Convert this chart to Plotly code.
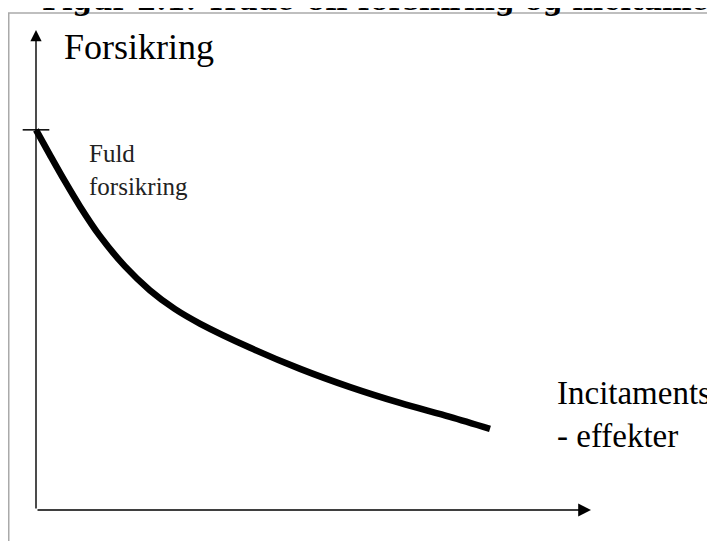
import plotly.graph_objects as go

# Curve: insurance level vs incentive effects (abstract units)
incentive = [0.0, 0.25, 0.52, 0.79, 1.15, 1.60, 2.05, 2.50, 2.96, 3.86, 4.76, 5.66, 6.56, 7.46, 8.18]
insurance = [7.92, 7.40, 6.85, 6.33, 5.71, 5.08, 4.58, 4.19, 3.88, 3.38, 2.94, 2.56, 2.23, 1.94, 1.69]

x_axis_end = 10.0
y_axis_end = 10.0
full_insurance = insurance[0]
tick_half = 0.24

title_text = "Figur 2.1: Trade-off forsikring og incitamentseffekter"
y_label = "Forsikring"
x_label = "Incitaments<br>- effekter"
full_label = "Fuld<br>forsikring"

# figure is placed at (8,8) in the page by the default body margin
W, H = 707, 533
unit_x, unit_y = 55.5, 48.0
origin_x, origin_y = 28, 502          # figure pixels of the axes origin
x_min = -origin_x / unit_x
L = 0
T = origin_y - y_axis_end * unit_y
pw = origin_x + x_axis_end * unit_x
R = W - pw
B = H - origin_y

def fx(p):
    return (p - L) / pw

def fy(p):
    return (H - B - p) / (H - B - T)

fig = go.Figure()
fig.add_trace(go.Scatter(x=incentive, y=insurance, mode="lines",
                         line=dict(color="black", width=6.5, shape="spline", smoothing=0.9),
                         hoverinfo="skip", showlegend=False))
# full insurance tick
fig.add_trace(go.Scatter(x=[-tick_half, tick_half], y=[full_insurance, full_insurance], mode="lines",
                         line=dict(color="black", width=1.5), hoverinfo="skip", showlegend=False))

serif = "Liberation Serif, Times New Roman, serif"
ann = []
ann.append(dict(x=x_axis_end, y=0, ax=0, ay=0, xref="x", yref="y", axref="x", ayref="y",
                showarrow=True, arrowhead=2, arrowsize=1.6, arrowwidth=1.6, arrowcolor="black", text=""))
ann.append(dict(x=0, y=y_axis_end, ax=0, ay=0, xref="x", yref="y", axref="x", ayref="y",
                showarrow=True, arrowhead=2, arrowsize=1.6, arrowwidth=1.4, arrowcolor="black", text=""))
ann.append(dict(x=0.47, y=9.65, xref="x", yref="y", text=y_label, showarrow=False,
                xanchor="left", yanchor="middle", font=dict(family=serif, size=36, color="black")))
ann.append(dict(x=0.92, y=7.75, xref="x", yref="y", text=full_label, showarrow=False,
                xanchor="left", yanchor="top", align="left",
                font=dict(family=serif, size=25, color="#222")))
ann.append(dict(x=9.36, y=2.85, xref="x", yref="y", text=x_label, showarrow=False,
                xanchor="left", yanchor="top", align="left",
                font=dict(family=serif, size=33, color="black")))
ann.append(dict(x=fx(32), y=fy(11), xref="paper", yref="paper", text="<b>" + title_text + "</b>",
                showarrow=False, xanchor="left", yanchor="bottom",
                font=dict(family="DejaVu Serif, serif", size=28, color="black")))

shapes = [
    dict(type="line", xref="paper", yref="paper", x0=fx(0.75), x1=fx(0.75), y0=fy(5), y1=fy(H + 5),
         line=dict(color="#aaaaaa", width=1.5)),
    dict(type="line", xref="paper", yref="paper", x0=fx(0), x1=fx(W + 5), y0=fy(5), y1=fy(5),
         line=dict(color="#aaaaaa", width=1.5)),
]

fig.update_layout(width=W, height=H, margin=dict(l=L, r=R, t=T, b=B, pad=0),
                  paper_bgcolor="white", plot_bgcolor="white",
                  annotations=ann, shapes=shapes, showlegend=False)
fig.update_xaxes(range=[x_min, x_axis_end], visible=False, fixedrange=True)
fig.update_yaxes(range=[0, y_axis_end], visible=False, fixedrange=True)
fig.write_html("out.html")
